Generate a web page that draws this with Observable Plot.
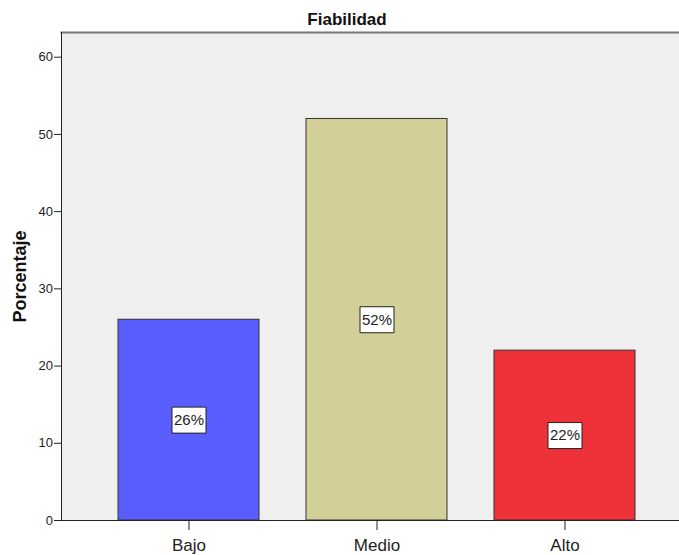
<!DOCTYPE html>
<html><head><meta charset="utf-8">
<script src="https://cdn.jsdelivr.net/npm/d3@7"></script>
<script src="https://cdn.jsdelivr.net/npm/@observablehq/plot@0.6"></script>
<style>
body{margin:0;background:#fff;}
#wrap{width:679px;height:555px;overflow:hidden;position:relative;}
#title{height:31px;position:relative;font:bold 17px "Liberation Sans",Arial,sans-serif;color:#111;}
#title span{position:absolute;top:10px;left:0;width:694px;text-align:center;}
</style></head><body>
<div id="wrap"><div id="title"><span>Fiabilidad</span></div><div id="chart"></div></div>
<script>
const categories = ["Bajo", "Medio", "Alto"];
const values = [26, 52, 22];
const labels = ["26%", "52%", "22%"];
const colors = ["#5a5eff", "#d3cf98", "#ef3139"];
const yTicks = [0, 10, 20, 30, 40, 50, 60];
const yMax = 63.2;
const yLabel = "Porcentaje";

const data = categories.map((c, i) => ({cat: c, value: values[i], half: values[i] / 2, label: labels[i], color: colors[i]}));
const sans = "'Liberation Sans',Arial,sans-serif";
const boxSymbol = {draw(ctx) { ctx.moveTo(-17, -13); ctx.lineTo(17, -13); ctx.lineTo(17, 13); ctx.lineTo(-17, 13); ctx.closePath(); }};

const chart = Plot.plot({
  width: 679,
  height: 524,
  marginLeft: 61,
  marginRight: -12,
  marginTop: 1,
  marginBottom: 35,
  style: {fontFamily: sans, background: "white", overflow: "hidden"},
  x: {domain: categories, paddingInner: 0.25, paddingOuter: 0.298},
  y: {domain: [0, yMax]},
  color: {type: "identity"},
  marks: [
    Plot.frame({fill: "#efefef", stroke: null}),
    Plot.barY(data, {x: "cat", y: "value", fill: "color", stroke: "#333", strokeWidth: 1}),
    Plot.dot(data, {x: "cat", y: "half", symbol: boxSymbol, r: 5, fill: "white", stroke: "#222", strokeWidth: 1}),
    Plot.text(data, {x: "cat", y: "half", text: "label", fontSize: 15, fontFamily: sans, fill: "#222"}),
    Plot.frame({anchor: "top", stroke: "#777", strokeWidth: 2}),
    Plot.frame({anchor: "left", stroke: "#222"}),
    Plot.frame({anchor: "bottom", stroke: "#222"}),
    Plot.axisY({ticks: yTicks, tickSize: 7, tickPadding: 1.5, fontSize: 13, fontFamily: sans, label: null, stroke: "#222", fill: "#222"}),
    Plot.axisX({tickSize: 10, tickPadding: 8, fontSize: 17, fontFamily: sans, label: null, stroke: "#222", fill: "#222"}),
    Plot.text([yLabel], {frameAnchor: "left", text: d => d, rotate: -90, textAnchor: "middle", dx: -41, fontSize: 18, fontWeight: "bold", fill: "#111"})
  ]
});
document.getElementById("chart").appendChild(chart);
</script>
</body></html>
